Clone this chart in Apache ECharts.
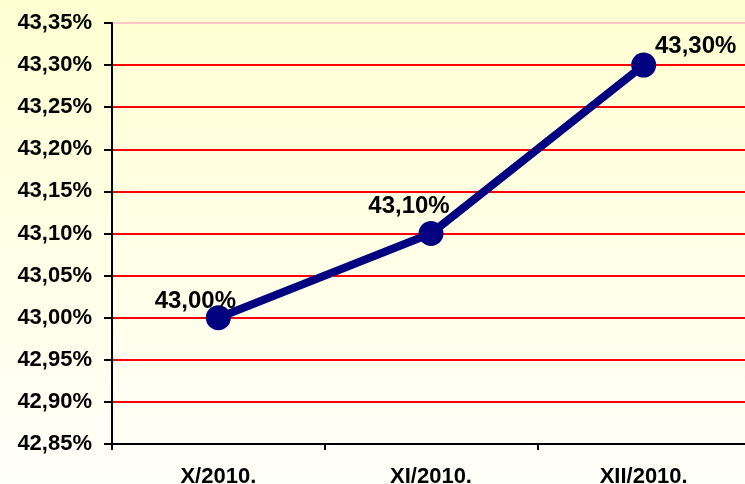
<!DOCTYPE html>
<html>
<head>
<meta charset="utf-8">
<script src="https://cdn.jsdelivr.net/npm/echarts@6/dist/echarts.min.js"></script>
<style>html,body{margin:0;padding:0;}#c{width:745px;height:484px;}</style>
</head>
<body>
<div id="c"></div>
<script>
var categories = ['X/2010.', 'XI/2010.', 'XII/2010.'];
var values = [43.00, 43.10, 43.30];
var yMin = 42.85, yMax = 43.35, yStep = 0.05;
var labelOffsets = [[-23, -16], [-22, -27], [52, -19]];

function fmt(v) { return v.toFixed(2).replace('.', ',') + '%'; }

var chart = echarts.init(document.getElementById('c'));
chart.setOption({
  backgroundColor: new echarts.graphic.LinearGradient(0, 0, 0, 1, [
    {offset: 0, color: '#FFFFD2'},
    {offset: 1, color: '#FFFFFA'}
  ]),
  animation: false,
  grid: {left: 112, right: -5, top: 23, bottom: 40, containLabel: false, outerBoundsMode: 'none'},
  xAxis: {
    type: 'category',
    data: categories,
    boundaryGap: true,
    axisLine: {lineStyle: {color: '#000', width: 2}},
    axisTick: {show: true, length: 6, lineStyle: {color: '#000', width: 2}},
    axisLabel: {color: '#000', fontFamily: 'Liberation Sans, Arial', fontWeight: 'bold', fontSize: 22, margin: 22},
    splitLine: {show: false}
  },
  yAxis: {
    type: 'value',
    min: yMin, max: yMax, interval: yStep,
    axisLine: {show: true, lineStyle: {color: '#000', width: 2}},
    axisTick: {show: true, length: 8, lineStyle: {color: '#000', width: 2}},
    axisLabel: {color: '#000', fontFamily: 'Liberation Sans, Arial', fontWeight: 'bold', fontSize: 22, margin: 20,
      formatter: function (v) { return fmt(v); }},
    splitLine: {show: true, lineStyle: {color: ['#FF0000', '#FF0000', '#FF0000', '#FF0000', '#FF0000', '#FF0000', '#FF0000', '#FF0000', '#FF0000', '#FF0000', '#FFC8C8'], width: 2}}
  },
  series: [{
    type: 'line',
    data: values.map(function (v, i) {
      return {value: v, label: {offset: labelOffsets[i]}};
    }),
    lineStyle: {color: '#000080', width: 8},
    itemStyle: {color: '#000080'},
    symbol: 'circle',
    symbolSize: 25,
    label: {
      show: true, position: 'inside',
      color: '#000', fontFamily: 'Liberation Sans, Arial', fontWeight: 'bold', fontSize: 24,
      formatter: function (p) { return fmt(p.value); }
    }
  }]
});
</script>
</body>
</html>
